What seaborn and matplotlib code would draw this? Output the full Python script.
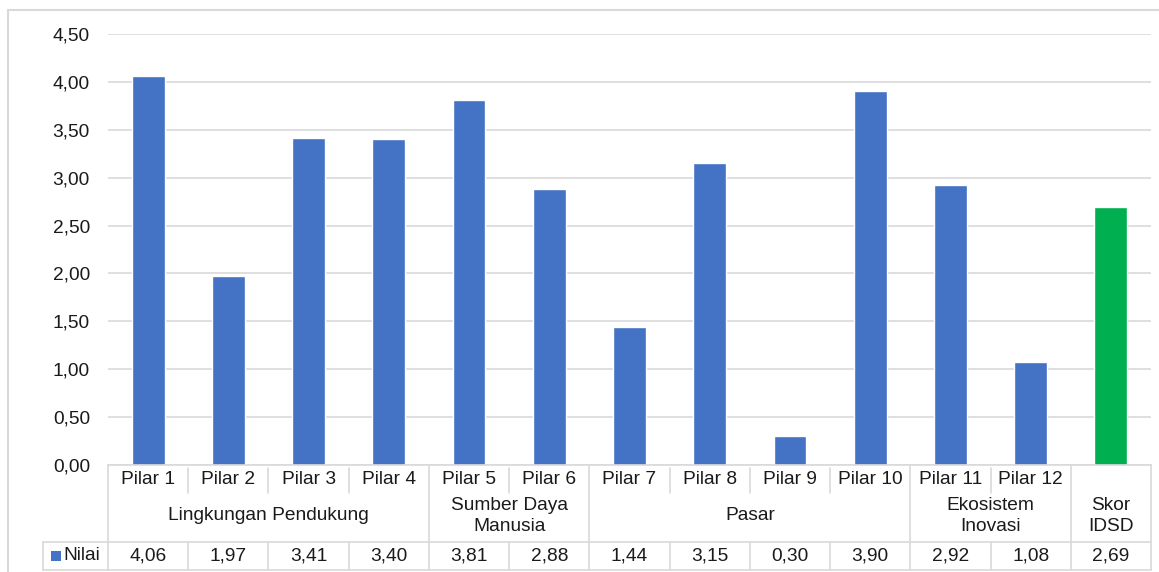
import matplotlib
matplotlib.use("Agg")
import matplotlib.pyplot as plt
import seaborn as sns
from matplotlib.lines import Line2D
from matplotlib.patches import Rectangle
from matplotlib.ticker import FuncFormatter

# data
pilar = ["Pilar 1", "Pilar 2", "Pilar 3", "Pilar 4", "Pilar 5", "Pilar 6",
         "Pilar 7", "Pilar 8", "Pilar 9", "Pilar 10", "Pilar 11", "Pilar 12", ""]
nilai = [4.06, 1.97, 3.41, 3.40, 3.81, 2.88, 1.44, 3.15, 0.30, 3.90, 2.92, 1.08, 2.69]
groups = ["Lingkungan Pendukung", "Sumber Daya\nManusia", "Pasar",
          "Ekosistem\nInovasi", "Skor\nIDSD"]
group_sizes = [4, 2, 4, 2, 1]
series_name = "Nilai"

BLUE = "#4472C4"
GREEN = "#00B050"
GRID = "#d9d9d9"
colors = [BLUE] * 12 + [GREEN]
FS = 13.8

sns.set_style("white")
plt.rcParams['font.family'] = ['Liberation Sans', 'DejaVu Sans']

W, H = 1159, 572
fig = plt.figure(figsize=(W / 100, H / 100), dpi=100)

# plot area in pixel coords
x0, x1, y_top, y_zero = 108, 1151, 34, 465
ax = fig.add_axes([x0 / W, (H - y_zero) / H, (x1 - x0) / W, (y_zero - y_top) / H])

keys = [f"c{i}" for i in range(len(nilai))]
sns.barplot(x=keys, y=nilai, hue=keys, palette=colors, legend=False,
            width=0.41, saturation=1, ax=ax)

ax.set_xlim(-0.5, len(nilai) - 0.5)
ax.set_ylim(0, 4.5)
ax.set_yticks([i * 0.5 for i in range(10)])
ax.yaxis.set_major_formatter(FuncFormatter(lambda v, p: f"{v:.2f}".replace(".", ",")))
ax.tick_params(axis="y", length=0, pad=13, labelsize=FS, labelcolor="#1a1a1a")
ax.set_xticks([])
ax.set_xlabel("")
ax.set_ylabel("")
ax.grid(axis="y", color=GRID, linewidth=1.2)
ax.set_axisbelow(True)
for s in ["top", "right", "left"]:
    ax.spines[s].set_visible(False)
ax.spines["bottom"].set_color(GRID)
ax.spines["bottom"].set_linewidth(1.2)

# outer border
fig.add_artist(Rectangle((8 / W, -0.1), 1.2, (H - 10) / H + 0.1, transform=fig.transFigure,
                         fill=False, edgecolor=GRID, linewidth=1.5))

# table under the axis: x in data coords, y in pixels -> axes fraction
trans = ax.get_xaxis_transform()
ph = y_zero - y_top
def ay(py):
    return (y_zero - py) / ph

def vline(x, py0, py1):
    ax.add_line(Line2D([x, x], [ay(py0), ay(py1)], transform=trans, color=GRID,
                       linewidth=1.2, clip_on=False))

def hline(xa, xb, py):
    ax.add_line(Line2D([xa, xb], [ay(py), ay(py)], transform=trans, color=GRID,
                       linewidth=1.2, clip_on=False))

r1_bot, r2_bot, r3_bot = 493, 542, 570
n = len(nilai)
txt = dict(transform=trans, ha="center", va="center", fontsize=FS,
           color="#1a1a1a", clip_on=False)

# row 1 - pilar labels
for i, lab in enumerate(pilar):
    ax.text(i, ay(479), lab, **txt)

# group boundaries
bounds = [0]
for g in group_sizes:
    bounds.append(bounds[-1] + g)
for b in bounds:
    vline(b - 0.5, y_zero, r3_bot)
for i in range(1, n):
    if i not in bounds:
        vline(i - 0.5, y_zero + 3, r1_bot)
        vline(i - 0.5, r2_bot, r3_bot)

# row 2 - group labels
for gi, g in enumerate(groups):
    cx = (bounds[gi] + bounds[gi + 1] - 1) / 2
    ax.text(cx, ay(516), g, linespacing=1.32, **txt)

# row 3 - values
for i, v in enumerate(nilai):
    ax.text(i, ay(556), f"{v:.2f}".replace(".", ","), **txt)

hline(-0.5, n - 0.5, r2_bot)
hline(-0.5, n - 0.5, r3_bot)

# legend key cell
fig.add_artist(Line2D([43 / W, x0 / W], [(H - r2_bot) / H] * 2, color=GRID, linewidth=1.2))
fig.add_artist(Line2D([43 / W, x0 / W], [(H - r3_bot) / H] * 2, color=GRID, linewidth=1.2))
fig.add_artist(Line2D([43 / W, 43 / W], [(H - r3_bot) / H, (H - r2_bot) / H], color=GRID, linewidth=1.2))
fig.add_artist(Rectangle((51 / W, (H - 561) / H), 10 / W, 10 / H, transform=fig.transFigure,
                         facecolor=BLUE, edgecolor="none"))
fig.text(63 / W, (H - 556) / H, series_name, ha="left", va="center", fontsize=FS, color="#1a1a1a")

fig.savefig("out.png", dpi=100)
